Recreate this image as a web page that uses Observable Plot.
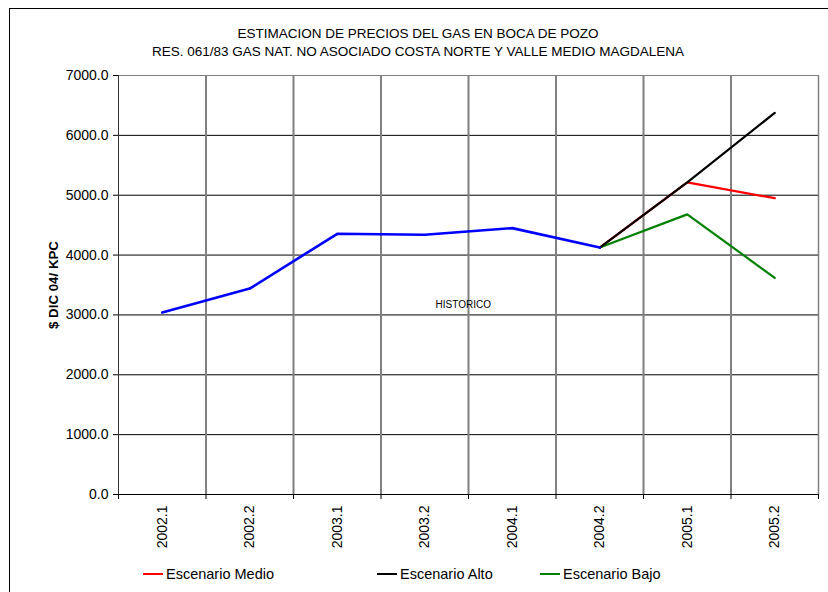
<!DOCTYPE html>
<html>
<head>
<meta charset="utf-8">
<script src="https://cdn.jsdelivr.net/npm/d3@7"></script>
<script src="https://cdn.jsdelivr.net/npm/@observablehq/plot@0.6"></script>
<style>
  body { margin: 0; background: #fff; }
  #wrap { position: relative; width: 828px; height: 592px; overflow: hidden; background: #fff;
          font-family: "Liberation Sans", Arial, sans-serif; color: #000; }
  #border { position: absolute; left: 9px; top: 8px; width: 900px; height: 700px; border: 1px solid #000; }
  #chart { position: absolute; left: 0; top: 0; }
  .title { position: absolute; left: 0; width: 836px; text-align: center; font-size: 13.5px; white-space: nowrap; }
  .leg { position: absolute; top: 566px; font-size: 14.5px; white-space: nowrap; display: flex; align-items: center; }
  .leg span.sw { display: inline-block; width: 20px; height: 2px; margin-right: 3px; }
</style>
</head>
<body>
<div id="wrap">
  <div id="border"></div>
  <div class="title" style="top:26px">ESTIMACION DE PRECIOS DEL GAS EN BOCA DE POZO</div>
  <div class="title" style="top:44px">RES. 061/83 GAS NAT. NO ASOCIADO COSTA NORTE Y VALLE MEDIO MAGDALENA</div>
  <div id="chart"></div>
  <div id="legend"></div>
</div>
<script>
const periods = ["2002.1", "2002.2", "2003.1", "2003.2", "2004.1", "2004.2", "2005.1", "2005.2"];
const historico = [3040, 3440, 4355, 4340, 4450, 4125, null, null];
const escenarioMedio = [null, null, null, null, null, 4125, 5215, 4950];
const escenarioAlto = [null, null, null, null, null, 4125, 5215, 6375];
const escenarioBajo = [null, null, null, null, null, 4125, 4680, 3620];
const yTicks = [0, 1000, 2000, 3000, 4000, 5000, 6000, 7000];
const seriesNames = ["Escenario Medio", "Escenario Alto", "Escenario Bajo"];
const seriesColors = ["#ff0000", "#000000", "#008000"];
const yLabel = "$ DIC 04/ KPC";
const annotation = "HISTORICO";

const idx = periods.map((_, i) => i);
const rows = (arr) => idx.filter(i => arr[i] != null).map(i => ({i, v: arr[i]}));
const bounds = d3.range(-0.5, periods.length, 1); // -0.5 .. 7.5
const inner = bounds.filter(b => b > 0 && b < periods.length - 1);

const chart = Plot.plot({
  width: 828,
  height: 592,
  marginLeft: 118,
  marginRight: 10,
  marginTop: 75,
  marginBottom: 98,
  style: {fontFamily: "'Liberation Sans', Arial, sans-serif", fontSize: "14px", color: "#000", background: "transparent"},
  x: {type: "linear", domain: [-0.5, periods.length - 0.5]},
  y: {domain: [0, 7000]},
  marks: [
    Plot.ruleY(yTicks.filter(v => v > 0 && v < 7000), {stroke: "#000", strokeWidth: 1}),
    Plot.ruleX(inner, {stroke: "#808080", strokeWidth: 2}),
    Plot.ruleY([7000], {stroke: "#808080", strokeWidth: 1}),
    Plot.ruleX([periods.length - 0.5], {stroke: "#808080", strokeWidth: 1.5}),
    Plot.ruleX([-0.5], {stroke: "#333", strokeWidth: 1}),
    Plot.ruleY([0], {stroke: "#000", strokeWidth: 1}),
    Plot.axisY({ticks: yTicks, tickFormat: d => d.toFixed(1), tickSize: 5, tickPadding: 5, label: null, fontSize: 14, stroke: "#000"}),
    Plot.axisX({ticks: bounds, tickFormat: () => "", tickSize: 5, label: null, stroke: "#000"}),
    Plot.axisX({ticks: idx, tickFormat: i => periods[i], tickSize: 0, tickPadding: 11, tickRotate: -90, label: null, fontSize: 14}),
    Plot.line(rows(escenarioMedio), {x: "i", y: "v", stroke: seriesColors[0], strokeWidth: 2.2}),
    Plot.line(rows(escenarioBajo), {x: "i", y: "v", stroke: seriesColors[2], strokeWidth: 2.2}),
    Plot.line(rows(escenarioAlto), {x: "i", y: "v", stroke: seriesColors[1], strokeWidth: 2.2}),
    Plot.line(rows(historico), {x: "i", y: "v", stroke: "#0000ff", strokeWidth: 2.6}),
    Plot.text([annotation], {x: 3.44, y: 3170, fontSize: 10, fill: "#000"}),
    Plot.text([yLabel], {frameAnchor: "left", textAnchor: "middle", dx: -65, rotate: -90, fontWeight: "bold", fontSize: 13.3, fill: "#000"})
  ]
});
document.getElementById("chart").appendChild(chart);

const legendX = [143, 377, 540];
const legend = document.getElementById("legend");
seriesNames.forEach((name, k) => {
  const d = document.createElement("div");
  d.className = "leg";
  d.style.left = legendX[k] + "px";
  d.innerHTML = `<span class="sw" style="background:${seriesColors[k]}"></span>${name}`;
  legend.appendChild(d);
});
</script>
</body>
</html>
